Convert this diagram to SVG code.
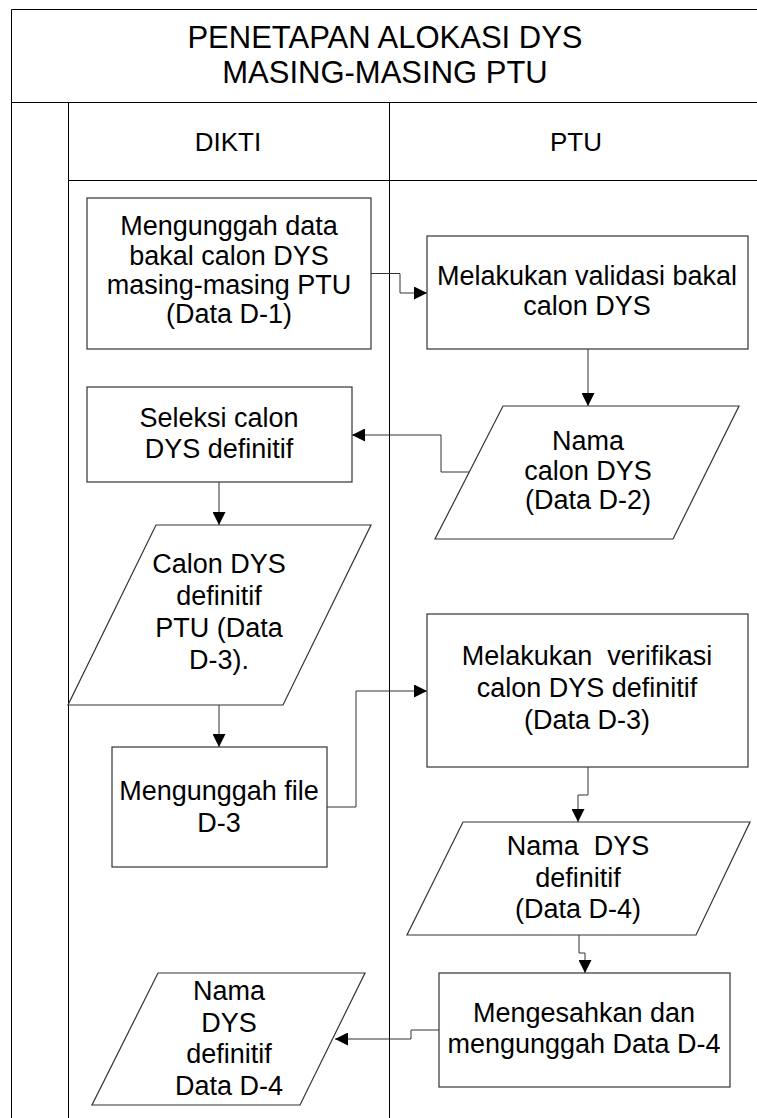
<svg xmlns="http://www.w3.org/2000/svg" width="757" height="1118" viewBox="0 0 757 1118">
<style>
.lane{stroke:#000;stroke-width:1;fill:none}
.shape{fill:#fff;stroke:#333;stroke-width:1.2}
.conn{fill:none;stroke:#333;stroke-width:1}
text{font-family:"Liberation Sans",Arial,sans-serif;fill:#000;text-anchor:middle}
.t{font-size:27px}
.h{font-size:26px}
.title{font-size:31px}
</style>
<defs>
<marker id="arr" markerUnits="userSpaceOnUse" markerWidth="13" markerHeight="13" refX="13" refY="6.5" orient="auto">
<path d="M0,0 L13,6.5 L0,13 z" fill="#000"/>
</marker>
</defs>
<g id="frame">
<path class="lane" d="M11.5,1118 V9.5 H757 M11.5,102.5 H757 M68.5,102.5 V1118 M389.5,102.5 V1118 M68.5,180.5 H757"/>
<text class="title" x="385" y="48">PENETAPAN ALOKASI DYS</text>
<text class="title" x="385" y="83">MASING-MASING PTU</text>
<text class="h" x="228" y="151">DIKTI</text>
<text class="h" x="576" y="151">PTU</text>
</g>
<g id="connectors">
<path class="conn" d="M371,273.5 H400 V293 H427" marker-end="url(#arr)"/>
<path class="conn" d="M588,349 V406" marker-end="url(#arr)"/>
<path class="conn" d="M469,472 H441 V435 H352" marker-end="url(#arr)"/>
<path class="conn" d="M219,482 V525" marker-end="url(#arr)"/>
<path class="conn" d="M219,705 V747" marker-end="url(#arr)"/>
<path class="conn" d="M327,807 H356 V691 H427" marker-end="url(#arr)"/>
<path class="conn" d="M588,767 V795 H578 V822" marker-end="url(#arr)"/>
<path class="conn" d="M579,935 V953 H585 V973" marker-end="url(#arr)"/>
<path class="conn" d="M439,1030 H411 V1039 H335" marker-end="url(#arr)"/>
</g>
<g id="n1">
<rect class="shape" x="87" y="198" width="284" height="151"/>
<text class="t" x="229" y="235">Mengunggah data</text>
<text class="t" x="229" y="265">bakal calon DYS</text>
<text class="t" x="229" y="294">masing-masing PTU</text>
<text class="t" x="229" y="323">(Data D-1)</text>
</g>
<g id="n2">
<rect class="shape" x="427" y="236" width="321" height="113"/>
<text class="t" x="587" y="285">Melakukan validasi bakal</text>
<text class="t" x="587" y="315">calon DYS</text>
</g>
<g id="n3">
<polygon class="shape" points="503,406 739,406 673,539 435,539"/>
<text class="t" x="588" y="450">Nama</text>
<text class="t" x="588" y="480">calon DYS</text>
<text class="t" x="588" y="509">(Data D-2)</text>
</g>
<g id="n4">
<rect class="shape" x="87" y="387" width="265" height="95"/>
<text class="t" x="219" y="427">Seleksi calon</text>
<text class="t" x="219" y="458">DYS definitif</text>
</g>
<g id="n5">
<polygon class="shape" points="156,525 371,525 283,705 68,705"/>
<text class="t" x="219" y="573">Calon DYS</text>
<text class="t" x="219" y="605">definitif</text>
<text class="t" x="219" y="637">PTU (Data</text>
<text class="t" x="219" y="669">D-3).</text>
</g>
<g id="n6">
<rect class="shape" x="112" y="747" width="215" height="120"/>
<text class="t" x="219" y="800">Mengunggah file</text>
<text class="t" x="219" y="832">D-3</text>
</g>
<g id="n7">
<rect class="shape" x="427" y="614" width="321" height="153"/>
<text class="t" x="587" y="665" xml:space="preserve">Melakukan  verifikasi</text>
<text class="t" x="587" y="697">calon DYS definitif</text>
<text class="t" x="587" y="729">(Data D-3)</text>
</g>
<g id="n8">
<polygon class="shape" points="463,822 750,822 696,935 407,935"/>
<text class="t" x="578" y="855" xml:space="preserve">Nama  DYS</text>
<text class="t" x="578" y="887">definitif</text>
<text class="t" x="578" y="918">(Data D-4)</text>
</g>
<g id="n9">
<rect class="shape" x="439" y="973" width="291" height="114"/>
<text class="t" x="584" y="1022">Mengesahkan dan</text>
<text class="t" x="584" y="1053">mengunggah Data D-4</text>
</g>
<g id="n10">
<polygon class="shape" points="158,973 365,973 300,1105 92,1105"/>
<text class="t" x="229" y="1000">Nama</text>
<text class="t" x="229" y="1032">DYS</text>
<text class="t" x="229" y="1063">definitif</text>
<text class="t" x="229" y="1095">Data D-4</text>
</g>
</svg>
